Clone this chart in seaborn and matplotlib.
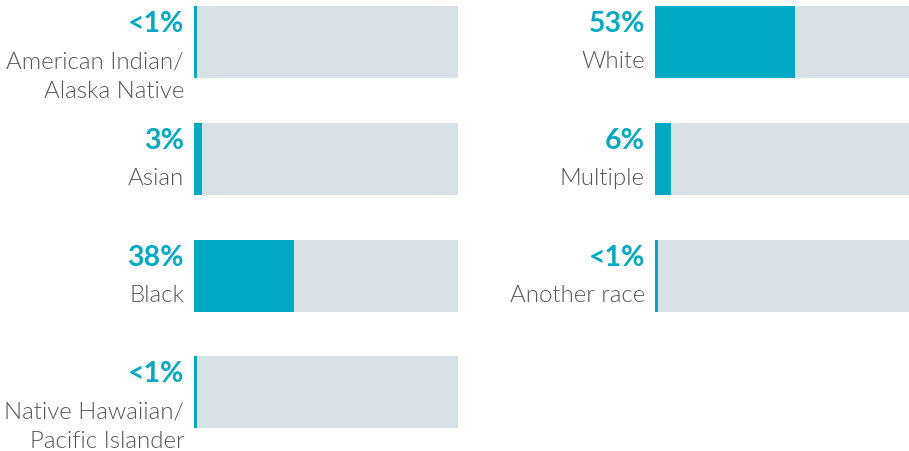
import numpy as np
import pandas as pd
import matplotlib
matplotlib.use("Agg")
import matplotlib.pyplot as plt
import seaborn as sns

# data
left_cats = ["American Indian/\nAlaska Native", "Asian", "Black", "Native Hawaiian/\nPacific Islander"]
left_vals = [1, 3, 38, 1]
left_txt = ["<1%", "3%", "38%", "<1%"]

right_cats = ["White", "Multiple", "Another race"]
right_vals = [53, 6, 1]
right_txt = ["53%", "6%", "<1%"]

TEAL = "#00AAC4"
GRAY = "#D9E1E7"
TXT = "#555555"

sns.set_theme(style="white")
plt.rcParams['font.family'] = ['Lato', 'DejaVu Sans']

W, H = 909, 452
fig = plt.figure(figsize=(W / 100, H / 100), dpi=100)

row0 = 43.0      # px centre of first row
step = 116.8     # px between rows
ylim = ((H - row0) / step, -row0 / step)


def draw(ax, cats, vals, txt):
    df = pd.DataFrame({"cat": cats, "val": vals, "full": [100] * len(cats)})
    sns.barplot(data=df, x="full", y="cat", color=GRAY, saturation=1,
                width=0.617, linewidth=0, ax=ax)
    sns.barplot(data=df, x="val", y="cat", color=TEAL, saturation=1,
                width=0.617, linewidth=0, ax=ax)
    ax.set_xlim(0, 100)
    ax.set_ylim(*ylim)
    ax.axis("off")
    tr = ax.get_yaxis_transform()
    xo = -10 / 264
    for i, (c, t) in enumerate(zip(cats, txt)):
        ax.text(xo, i - 11 / step, t, transform=tr, ha="right", va="baseline",
                fontsize=20.5, fontweight="bold", color=TEAL, clip_on=False)
        for j, line in enumerate(c.split("\n")):
            ax.text(xo, i + (25 + 30 * j) / step, line, transform=tr, ha="right",
                    va="baseline", fontsize=17.3, fontweight=300, color=TXT,
                    clip_on=False)


ax1 = fig.add_axes([194 / W, 0, 264 / W, 1])
draw(ax1, left_cats, left_vals, left_txt)
ax2 = fig.add_axes([655 / W, 0, 264 / W, 1])
draw(ax2, right_cats, right_vals, right_txt)

fig.savefig("out.png", dpi=100)
